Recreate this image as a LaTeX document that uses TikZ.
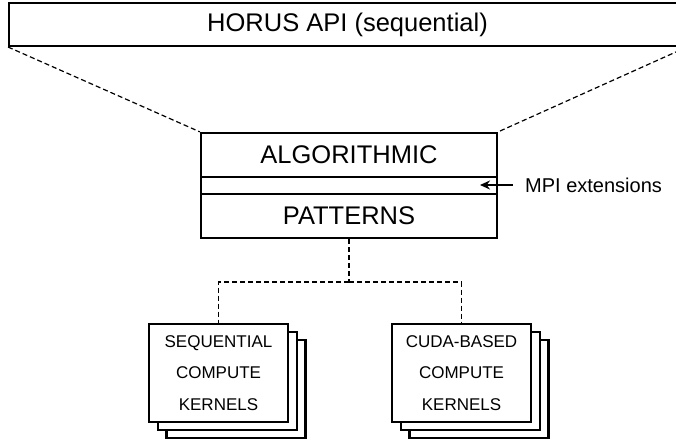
\documentclass[tikz,border=0pt]{standalone}
\usepackage{fontspec}
\setmainfont{Liberation Sans}
\usetikzlibrary{arrows.meta}
\begin{document}
\begin{tikzpicture}[x=1pt,y=-1pt,
  box/.style={draw, line width=2pt, fill=white, inner sep=0pt, text=black},
  conn/.style={line width=1.2pt, dash pattern=on 5pt off 3pt},
  stackbox/.style={draw, line width=2.3pt, fill=white, minimum width=139pt, minimum height=98pt, inner sep=0pt},
  kern/.style={stackbox, align=center, font=\fontsize{17}{31.5}\selectfont},
  big/.style={font=\fontsize{25.5}{30}\selectfont}]
\clip (0,0) rectangle (676,439);
\fill[white] (0,0) rectangle (676,439);
% top API box
\node[box, big, minimum width=677pt, minimum height=43pt] (api) at (347.5,24.5) {HORUS API (sequential)};
% middle layered box
\node[box, big, line width=2.3pt, minimum width=296pt, minimum height=44pt] (alg) at (349,155) {ALGORITHMIC};
\node[box, line width=2.3pt, minimum width=296pt, minimum height=17pt] (ext) at (349,185.5) {};
\node[box, big, line width=2.3pt, minimum width=296pt, minimum height=44pt] (pat) at (349,216) {PATTERNS};
% funnel lines
\draw[conn] (api.south west) -- (alg.north west);
\draw[conn] (api.south east) -- (alg.north east);
% MPI extensions label and arrow
\node[anchor=west, inner sep=0pt, inner xsep=12pt, font=\fontsize{20}{24}\selectfont] (mpilbl) at (513,185) {MPI extensions};
\coordinate (tip) at (480,185);
\draw[line width=2pt, -{Stealth[length=10pt,width=9pt]}] (mpilbl.west) -- (tip);
% kernel stacks
\node[stackbox] (seqc) at (236,389) {};
\node[stackbox] (seqb) at (227.5,381) {};
\node[kern] (seq) at (218.5,373) {SEQUENTIAL\\COMPUTE\\KERNELS};
\node[stackbox] (cudac) at (479,389) {};
\node[stackbox] (cudab) at (470.5,381) {};
\node[kern] (cuda) at (461.5,373) {CUDA-BASED\\COMPUTE\\KERNELS};
% dashed tree connectors
\coordinate (split) at (349,282);
\draw[conn] (pat.south) -- (split);
\draw[conn] (split) -| (seq.north);
\draw[conn] (split) -| (cuda.north);
\end{tikzpicture}
\end{document}
